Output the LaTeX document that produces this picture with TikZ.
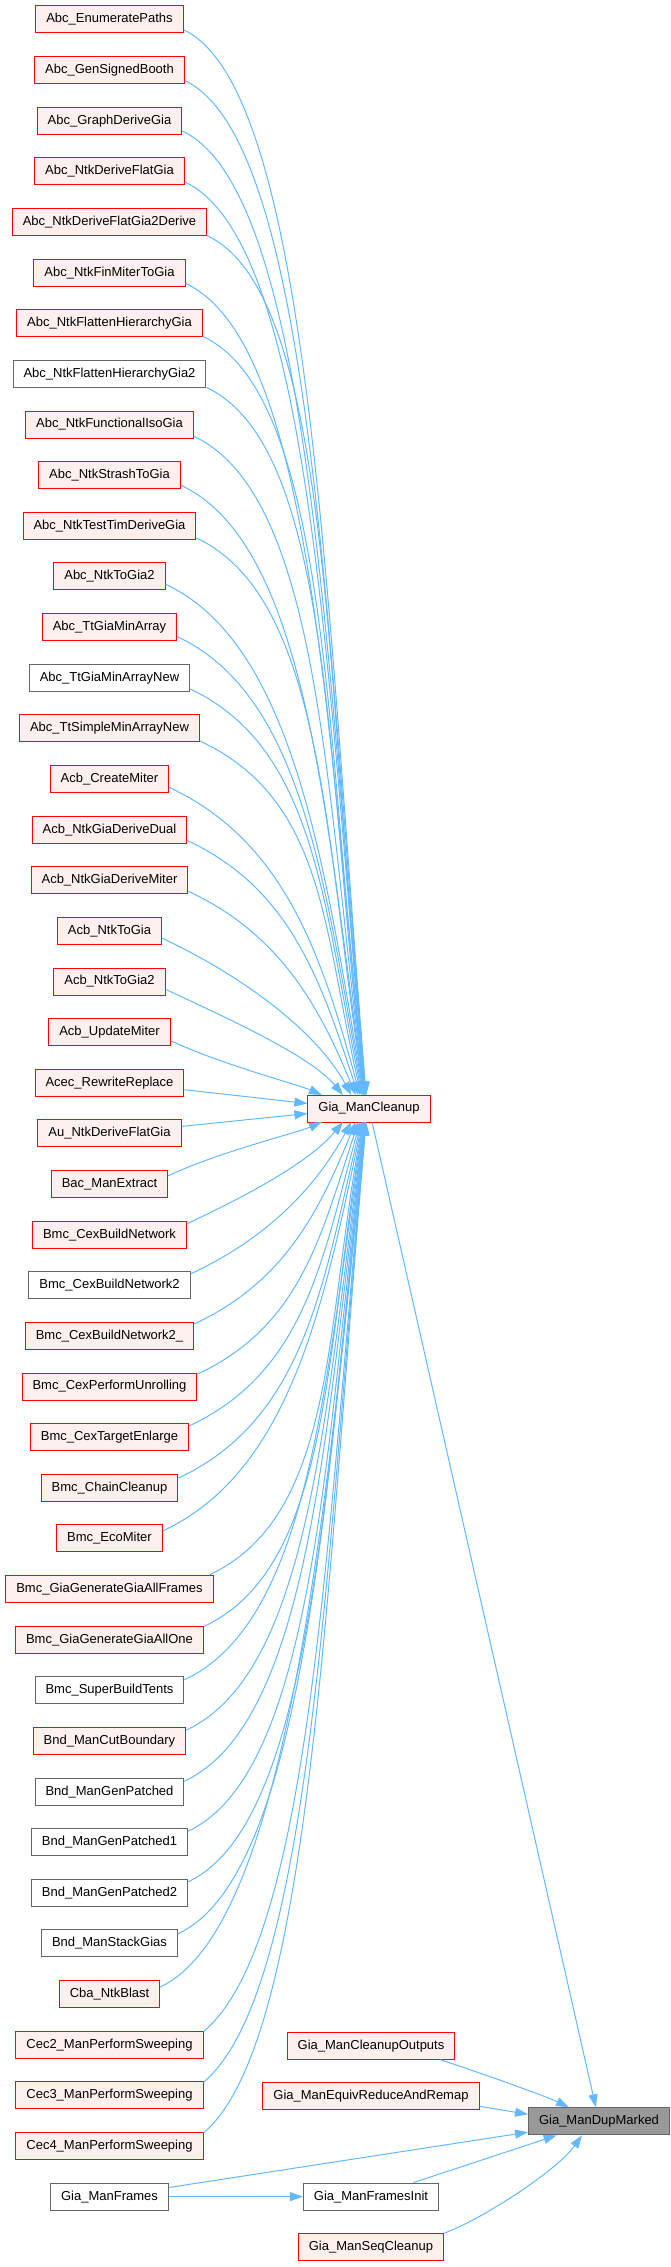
\documentclass[tikz,border=0pt]{standalone}
\usepackage{fontspec}
\setmainfont{Liberation Sans}
\usetikzlibrary{arrows.meta}

\definecolor{boxred}{HTML}{FF0000}
\definecolor{boxpink}{HTML}{FFF0F0}
\definecolor{boxgrey}{HTML}{666666}
\definecolor{boxfill}{HTML}{999999}
\definecolor{edgeblue}{HTML}{63B8FF}

\tikzset{
  redbox/.style={draw=boxred, fill=boxpink, line width=1pt, font=\fontsize{13}{15}\selectfont,
    inner xsep=10.5pt, inner ysep=0pt, minimum height=27pt, text height=9.5pt, text depth=2.7pt},
  greybox/.style={redbox, draw=boxgrey, fill=white},
  thisbox/.style={redbox, draw=boxgrey, fill=boxfill},
  callarrow/.style={draw=edgeblue, line width=1pt, -{Triangle[length=13pt,width=9pt]}}
}

\begin{document}
\begin{tikzpicture}[x=1pt,y=-1pt]
        \useasboundingbox (0,0) rectangle (671,2267);

        % Callers
        \node[redbox]  (c0)  at (109.5,19.5)   {Abc\_EnumeratePaths};
        \node[redbox]  (c1)  at (109.5,70.1)   {Abc\_GenSignedBooth};
        \node[redbox]  (c2)  at (109.5,120.8)  {Abc\_GraphDeriveGia};
        \node[redbox]  (c3)  at (109.5,171.4)  {Abc\_NtkDeriveFlatGia};
        \node[redbox]  (c4)  at (109.5,222.0)  {Abc\_NtkDeriveFlatGia2Derive};
        \node[redbox]  (c5)  at (109.5,272.7)  {Abc\_NtkFinMiterToGia};
        \node[redbox]  (c6)  at (109.5,323.3)  {Abc\_NtkFlattenHierarchyGia};
        \node[greybox] (c7)  at (109.5,373.9)  {Abc\_NtkFlattenHierarchyGia2};
        \node[redbox]  (c8)  at (109.5,424.5)  {Abc\_NtkFunctionalIsoGia};
        \node[redbox]  (c9)  at (109.5,475.2)  {Abc\_NtkStrashToGia};
        \node[redbox]  (c10) at (109.5,525.8)  {Abc\_NtkTestTimDeriveGia};
        \node[redbox]  (c11) at (109.5,576.4)  {Abc\_NtkToGia2};
        \node[redbox]  (c12) at (109.5,627.1)  {Abc\_TtGiaMinArray};
        \node[greybox] (c13) at (109.5,677.7)  {Abc\_TtGiaMinArrayNew};
        \node[redbox]  (c14) at (109.5,728.3)  {Abc\_TtSimpleMinArrayNew};
        \node[redbox]  (c15) at (109.5,779.0)  {Acb\_CreateMiter};
        \node[redbox]  (c16) at (109.5,829.6)  {Acb\_NtkGiaDeriveDual};
        \node[redbox]  (c17) at (109.5,880.2)  {Acb\_NtkGiaDeriveMiter};
        \node[redbox]  (c18) at (109.5,930.8)  {Acb\_NtkToGia};
        \node[redbox]  (c19) at (109.5,981.5)  {Acb\_NtkToGia2};
        \node[redbox]  (c20) at (109.5,1032.1) {Acb\_UpdateMiter};
        \node[redbox]  (c21) at (109.5,1082.7) {Acec\_RewriteReplace};
        \node[redbox]  (c22) at (109.5,1133.4) {Au\_NtkDeriveFlatGia};
        \node[redbox]  (c23) at (109.5,1184.0) {Bac\_ManExtract};
        \node[redbox]  (c24) at (109.5,1234.6) {Bmc\_CexBuildNetwork};
        \node[greybox] (c25) at (109.5,1285.3) {Bmc\_CexBuildNetwork2};
        \node[redbox]  (c26) at (109.5,1335.9) {Bmc\_CexBuildNetwork2\_};
        \node[redbox]  (c27) at (109.5,1386.5) {Bmc\_CexPerformUnrolling};
        \node[redbox]  (c28) at (109.5,1437.1) {Bmc\_CexTargetEnlarge};
        \node[redbox]  (c29) at (109.5,1487.8) {Bmc\_ChainCleanup};
        \node[redbox]  (c30) at (109.5,1538.4) {Bmc\_EcoMiter};
        \node[redbox]  (c31) at (109.5,1589.0) {Bmc\_GiaGenerateGiaAllFrames};
        \node[redbox]  (c32) at (109.5,1639.7) {Bmc\_GiaGenerateGiaAllOne};
        \node[greybox] (c33) at (109.5,1690.3) {Bmc\_SuperBuildTents};
        \node[redbox]  (c34) at (109.5,1740.9) {Bnd\_ManCutBoundary};
        \node[greybox] (c35) at (109.5,1791.6) {Bnd\_ManGenPatched};
        \node[greybox] (c36) at (109.5,1842.2) {Bnd\_ManGenPatched1};
        \node[greybox] (c37) at (109.5,1892.8) {Bnd\_ManGenPatched2};
        \node[greybox] (c38) at (109.5,1943.4) {Bnd\_ManStackGias};
        \node[redbox]  (c39) at (109.5,1994.1) {Cba\_NtkBlast};
        \node[redbox]  (c40) at (109.5,2044.7) {Cec2\_ManPerformSweeping};
        \node[redbox]  (c41) at (109.5,2095.3) {Cec3\_ManPerformSweeping};
        \node[redbox]  (c42) at (109.5,2146.0) {Cec4\_ManPerformSweeping};
        \node[greybox] (frames) at (109.5,2196.6) {Gia\_ManFrames};

        % Middle column
        \node[redbox]  (cleanup)    at (369,1108.5) {Gia\_ManCleanup};
        \node[redbox]  (cout)       at (371,2045.7) {Gia\_ManCleanupOutputs};
        \node[redbox]  (equiv)      at (371,2096.3) {Gia\_ManEquivReduceAndRemap};
        \node[greybox] (framesinit) at (371,2196.6) {Gia\_ManFramesInit};
        \node[redbox]  (seqcleanup) at (371,2247.2) {Gia\_ManSeqCleanup};

        % Function itself
        \node[thisbox] (dupmarked) at (599,2121.3) {Gia\_ManDupMarked};

        % Calls into Gia_ManCleanup from above
        \foreach \i in {0,...,20} {
          \pgfmathsetmacro\rows{21.5-\i}
          \pgfmathsetmacro\drop{1095-(19.5+50.63*\i)}
          \pgfmathsetmacro\lenA{min(140,40+0.28*\drop)}
          \pgfmathsetmacro\endx{368-75/(\rows^1.2)}
          \pgfmathsetmacro\endang{90-100/\rows}
          \pgfmathsetmacro\lenB{0.45*\drop}
          \draw[callarrow] (c\i.-8) .. controls +(25:\lenA) and +({180+\endang}:\lenB) .. (\endx,1095);
        }
        \draw[callarrow] ([yshift=-7pt]c21.east) -- ([yshift=5pt]cleanup.west);
        \draw[callarrow] ([yshift=7pt]c22.east) -- ([yshift=-5pt]cleanup.west);

        % Calls into Gia_ManCleanup from below
        \foreach \i in {23,...,42} {
          \pgfmathsetmacro\rows{\i-21.5}
          \pgfmathsetmacro\drop{19.5+50.63*\i-1122}
          \pgfmathsetmacro\lenA{min(140,40+0.28*\drop)}
          \pgfmathsetmacro\endx{368-75/(\rows^1.2)}
          \pgfmathsetmacro\endang{90-100/\rows}
          \pgfmathsetmacro\lenB{0.45*\drop}
          \pgfmathsetmacro\outang{\i>39 ? 40 : 25}
          \draw[callarrow] (c\i.8) .. controls +({-\outang}:\lenA) and +({180-\endang}:\lenB) .. (\endx,1122);
        }

        % Calls into Gia_ManDupMarked
        \draw[callarrow] (cleanup) -- (dupmarked);
        \draw[callarrow] ([xshift=-15pt]cout.south east) .. controls +(25,8) and +(-25,-12) .. ([xshift=-30pt]dupmarked.north);
        \draw[callarrow] ([yshift=-10pt]equiv.east) -- ([yshift=7pt]dupmarked.west);
        \draw[callarrow] (frames) -- (dupmarked);
        \draw[callarrow] (frames) -- (framesinit);
        \draw[callarrow] (framesinit) -- (dupmarked);
        \draw[callarrow] (seqcleanup.north east) .. controls +(40,-15) and +(-25,35) .. ([xshift=-17pt]dupmarked.south);
\end{tikzpicture}
\end{document}
